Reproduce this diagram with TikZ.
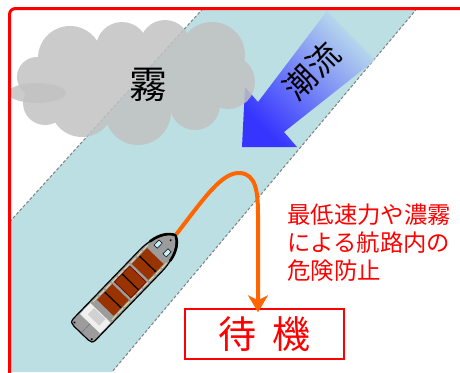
\documentclass[tikz,border=0pt]{standalone}
\usepackage{fontspec}
\newfontfamily\jp{Noto Sans CJK JP}
\usetikzlibrary{arrows.meta}
\definecolor{channel}{HTML}{BBDFE2}
\definecolor{fairway}{HTML}{7F7F7F}
\definecolor{foggray}{HTML}{C2C2C2}
\definecolor{tidedeep}{HTML}{3535FF}
\definecolor{tidemid}{HTML}{8FA6F4}
\definecolor{tidelight}{HTML}{BCDDEC}
\definecolor{hullgray}{HTML}{9C9C9C}
\definecolor{hold}{HTML}{993300}
\definecolor{rail}{HTML}{EFE6A0}
\definecolor{route}{HTML}{FF6600}
\definecolor{window}{HTML}{C8F0F8}
\tikzset{
  edgeline/.style={fairway, line width=1pt, dash pattern=on 3pt off 2pt},
  fogfill/.style={fill=foggray, fill opacity=0.85},
  jpfont/.style={font=\jp\fontsize{#1}{#1}\selectfont},
  note/.style={jpfont=23.4, text=red, inner sep=0pt, anchor=base west},
  holdbox/.style={fill=hold},
  hatchline/.style={black, line width=1.2pt},
}
\begin{document}
\begin{tikzpicture}[x=1pt,y=-1pt]
\useasboundingbox (0,0) rectangle (460,372);

% fairway band with its dashed edges
\fill[channel] (203,8.5) -- (417,8.5) -- (112,372) -- (9.5,372) -- (9.5,222) -- cycle;
\draw[edgeline] (203,8.5) -- (9.5,222);
\draw[edgeline] (417,8.5) -- (112,372);

% tidal current arrow
\shade[top color=tidelight, middle color=tidemid, bottom color=tidedeep, shading angle=-45]
  (327,11) -- (375,60) -- (284,132) -- (297,147) -- (242,147) -- (245,87) -- (258,102) -- cycle;
\node[jpfont=32, rotate=45, inner sep=0pt] (tide) at (312,71) {潮流};

% fog cloud
\fill[fogfill]
  (37,77) circle [radius=20pt]
  (45,103) circle [radius=22pt]
  (70,58) circle [radius=32pt]
  (122,48) circle [radius=26pt]
  (165,45) circle [radius=25pt]
  (212,55) circle [radius=33pt]
  (228,82) circle [radius=27pt]
  (195,105) circle [radius=25pt]
  (138,112) circle [radius=33pt]
  (82,105) circle [radius=32pt]
  (135,80) ellipse [x radius=90pt, y radius=35pt];
\fill[fogfill] (37,93) ellipse [x radius=29pt, y radius=10pt];
\node[jpfont=38, inner sep=0pt] (fog) at (148,85) {霧};

% ship, drawn along its own axis (stern at origin, bow at x=136)
\begin{scope}[shift={(81,333)}, rotate=46]
  \filldraw[fill=hullgray, draw=black, line width=1.2pt]
    (100,15.5) -- (5,15.5) .. controls (1,15.5) and (0,13) .. (0,10) -- (0,-10)
    .. controls (0,-13) and (1,-15.5) .. (5,-15.5) -- (100,-15.5)
    .. controls (118,-15.5) and (130,-9) .. (137,0)
    .. controls (130,9) and (118,15.5) .. (100,15.5) -- cycle;
  \draw[black, line width=2.6pt, line cap=round]
    (114,-14) .. controls (126,-12) and (133,-6.5) .. (136,0)
    .. controls (133,6.5) and (126,12) .. (114,14);
  % accommodation block
  \fill[white!94!black] (13,-14) rectangle (28,14);
  \fill[white!82!black] (18,-8) rectangle (27,8);
  \draw[black!55, line width=0.5pt] (1,0) -- (13,0);
  % side rails
  \draw[rail, line width=0.7pt, dash pattern=on 7pt off 2pt] (31,-13) -- (110,-13);
  \draw[rail, line width=0.7pt, dash pattern=on 7pt off 2pt] (31,13) -- (110,13);
  % cargo holds with hatch covers
  \fill[holdbox] (35,-11.5) rectangle (57,11.5);
  \filldraw[holdbox, draw=black!60!red, line width=0.6pt] (60,-11.5) rectangle (82,11.5);
  \fill[holdbox] (85,-11.5) rectangle (107,11.5);
  \foreach \hx in {46,71,96} {
    \draw[hatchline] (\hx,-10.5) -- (\hx,10.5);
    \fill (\hx,-10.5) circle [radius=1.2pt] (\hx,10.5) circle [radius=1.2pt];
  }
  % forecastle hatches and fittings
  \filldraw[fill=window, draw=black, line width=0.5pt] (114,-8.5) rectangle (121,-4);
  \filldraw[fill=window, draw=black, line width=0.5pt] (114,4) rectangle (121,8.5);
  \fill (129,0) circle [radius=1.2pt];
  \fill (3,-12) circle [radius=1.2pt] (3,12) circle [radius=1.2pt];
  \coordinate (bow) at (137,0);
\end{scope}

% waiting box and route arrow
\node[draw=red, line width=1.5pt, minimum width=159pt, minimum height=50pt,
      inner sep=0pt, text=red, jpfont=38] (wait) at (264.5,334) {待\hspace{0.4em}機};
\coordinate (turn) at (258,215);
\draw[route, line width=4pt, -{Stealth[length=17pt, width=20pt, inset=5pt]}, shorten >=-4pt]
  (bow) .. controls (205,197) and (222,172) .. (240,173)
  .. controls (256,174) and (258,192) .. (turn) -- (wait.north -| turn);

% explanation
\node[note] (n1) at (287,223) {最低速力や濃霧};
\node[note] (n2) at (287,251) {による航路内の};
\node[note] (n3) at (287,279) {危険防止};

% outer frame
\draw[red, line width=3pt, rounded corners=6pt] (9.5,380) -- (9.5,8.5) -- (470,8.5);
\end{tikzpicture}
\end{document}
